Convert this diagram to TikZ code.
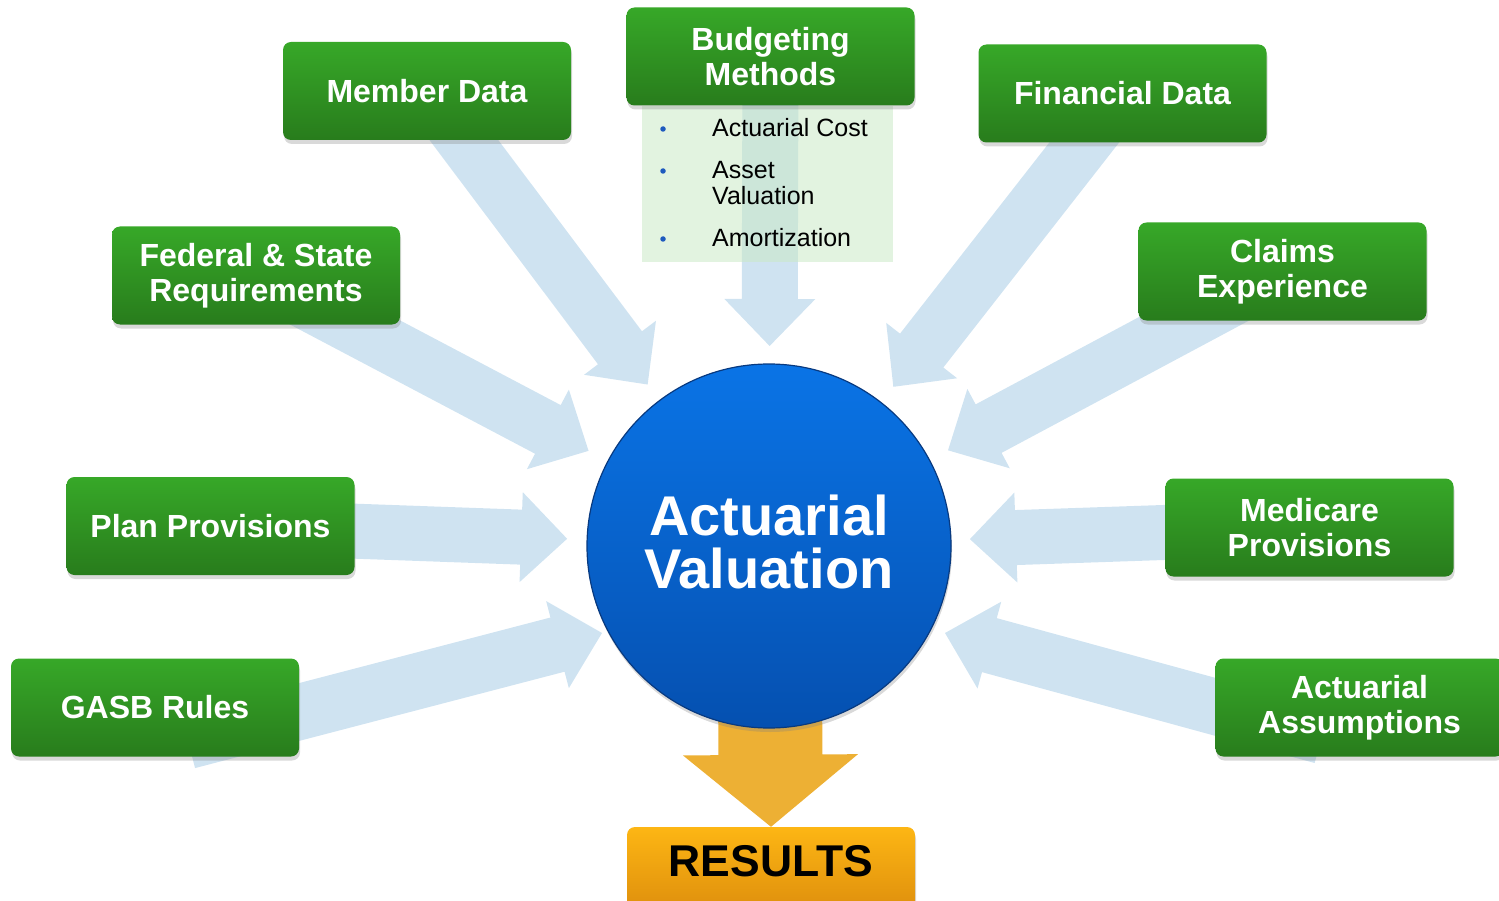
\documentclass[tikz,border=0pt]{standalone}
\usepackage{fontspec}
\setmainfont{Liberation Sans}
\usetikzlibrary{calc,shadows,backgrounds}
\definecolor{arrowblue}{RGB}{207,227,241}
\definecolor{gtop}{RGB}{55,168,40}
\definecolor{gbot}{RGB}{40,124,28}
\definecolor{ltgreen}{RGB}{202,233,199}
\definecolor{ctop}{RGB}{10,116,230}
\definecolor{cbot}{RGB}{5,80,176}
\definecolor{crim}{RGB}{8,58,128}
\definecolor{ytop}{RGB}{253,182,20}
\definecolor{ybot}{RGB}{220,140,12}
\definecolor{yarrow}{RGB}{237,176,52}
\definecolor{bulletblue}{RGB}{30,90,190}
% #1 style, #2 tail, #3 tip, #4 half shaft width, #5 half head width, #6 head length
\newcommand\blockarrow[6]{%
  \path ($(#3)!#6!(#2)$) coordinate (hb);
  \fill[#1] ($(#2)!#4!90:(#3)$) -- ($(hb)!#4!-90:(#2)$) -- ($(hb)!#5!-90:(#2)$)
    -- (#3) -- ($(hb)!#5!90:(#2)$) -- ($(hb)!#4!90:(#2)$) -- ($(#2)!#4!-90:(#3)$) -- cycle;
}
\begin{document}
\begin{tikzpicture}[x=1pt,y=-1pt,
  gbox/.style={rectangle, rounded corners=8pt, minimum width=288pt, minimum height=98pt,
    inner sep=0pt, top color=gtop, bottom color=gbot, text=white, align=center,
    font=\fontsize{32}{35}\selectfont\bfseries,
    drop shadow={shadow xshift=1pt, shadow yshift=-4pt, opacity=0.3}},
  barrow/.style={fill=arrowblue},
  btext/.style={anchor=base west, inner sep=0pt, font=\fontsize{25}{26}\selectfont},
  bdot/.style={circle, fill=bulletblue, inner sep=0pt, minimum size=5.5pt}]

\useasboundingbox (0,0) rectangle (1499,901);

% bullet area
\node (listbg) [rectangle, fill=ltgreen, fill opacity=0.55, minimum width=251pt, minimum height=156pt, inner sep=0pt] at (767.5,184) {};
\node (d1) [bdot] at (663,129) {};
\node (d2) [bdot] at (663,171) {};
\node (d3) [bdot] at (663,239) {};
\node (t1) [btext] at (712,137) {Actuarial Cost};
\node (t2) [btext] at (712,179) {Asset};
\node (t2b) [btext] at (712,205) {Valuation};
\node (t3) [btext] at (712,247) {Amortization};

% boxes
\node (member) [gbox] at (427,91) {Member Data};
\node (budget) [gbox] at (770.5,56.5) {Budgeting\\Methods};
\node (financial) [gbox] at (1122.5,93.5) {Financial Data};
\node (federal) [gbox] at (256,275.5) {Federal \& State\\Requirements};
\node (claims) [gbox] at (1282.5,271.5) {Claims\\Experience};
\node (plan) [gbox] at (210.5,526) {Plan Provisions};
\node (medicare) [gbox] at (1309.5,527.5) {Medicare\\Provisions};
\node (gasb) [gbox] at (155,707.5) {GASB Rules};
\node (assume) [gbox] at (1359.5,707.5) {Actuarial\\Assumptions};

% central circle
\node (av) [circle, minimum size=364pt, inner sep=0pt, top color=ctop, bottom color=cbot,
  draw=crim, line width=1.2pt,
  drop shadow={shadow xshift=1pt, shadow yshift=-4pt, opacity=0.3}] at (769,546) {};
\node (avT) [text=white, align=center, inner sep=0pt,
  font=\fontsize{56}{53}\selectfont\bfseries] at (769,542) {Actuarial\\Valuation};

% results
\node (res) [rectangle, rounded corners=8pt, minimum width=288pt, minimum height=90pt, inner sep=0pt,
  top color=ytop, bottom color=ybot,
  drop shadow={shadow xshift=1pt, shadow yshift=-4pt, opacity=0.3}] at (771,872) {};
\node (resT) [font=\fontsize{44.5}{44}\selectfont\bfseries, text=black, inner sep=0pt] at (771,861) {RESULTS};

% arrow end points
\coordinate (tipM) at ($(av.center)!202pt!(member.center)$);
\coordinate (tipB) at ($(av.center)!200pt!(budget.center)$);
\coordinate (tipF) at ($(av.center)!202pt!(financial.center)$);
\coordinate (tipS) at ($(av.center)!204pt!(federal.center)$);
\coordinate (tipC) at ($(av.center)!203pt!(claims.center)$);
\coordinate (tipP) at ($(av.center)!202pt!(plan.center)$);
\coordinate (tipD) at ($(av.center)!201pt!(medicare.center)$);
\coordinate (tailG) at (188,741);
\coordinate (tipG) at (602,633);
\coordinate (tailA) at (1322,736);
\coordinate (tipA) at (945,633);
\coordinate (tailY) at (770,690);

\begin{scope}[on background layer]
  \blockarrow{barrow}{member.center}{tipM}{27.5pt}{45pt}{46pt}
  \blockarrow{barrow}{budget.center}{tipB}{28pt}{45.5pt}{47pt}
  \blockarrow{barrow}{financial.center}{tipF}{27.5pt}{45pt}{46pt}
  \blockarrow{barrow}{federal.center}{tipS}{27.5pt}{45pt}{46pt}
  \blockarrow{barrow}{claims.center}{tipC}{27.5pt}{45pt}{46pt}
  \blockarrow{barrow}{plan.center}{tipP}{27.5pt}{45pt}{46pt}
  \blockarrow{barrow}{medicare.center}{tipD}{27.5pt}{45pt}{46pt}
  \blockarrow{barrow}{tailG}{tipG}{28pt}{45pt}{46pt}
  \blockarrow{barrow}{tailA}{tipA}{28pt}{45pt}{46pt}
  \blockarrow{fill=yarrow}{tailY}{res.north}{52pt}{87.5pt}{72pt}
\end{scope}
\end{tikzpicture}
\end{document}
